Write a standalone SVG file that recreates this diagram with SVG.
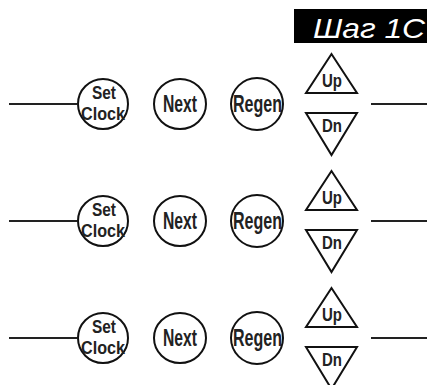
<svg xmlns="http://www.w3.org/2000/svg" width="427" height="385" viewBox="0 0 427 385">
<defs>
<style>
.c{fill:#fff;stroke:#111;stroke-width:2}
.t{fill:#fff;stroke:#111;stroke-width:2;stroke-linejoin:miter}
.ln{stroke:#222;stroke-width:2.2;fill:none}
.lb{font-family:"Liberation Sans",Arial,sans-serif;font-weight:bold;fill:#222;text-anchor:middle}
.ttl{font-family:"Liberation Sans",Arial,sans-serif;font-style:italic;fill:#fff}
</style>
</defs>
<g id="title"><rect x="294" y="9" width="133" height="34" fill="#000"/><text class="ttl" x="313" y="38" font-size="28" textLength="112" lengthAdjust="spacingAndGlyphs">Шаг 1C</text></g>
<g id="connectors">
<line class="ln" x1="9" y1="104" x2="77" y2="104"/>
<line class="ln" x1="371" y1="104" x2="427" y2="104"/>
<line class="ln" x1="9" y1="221" x2="77" y2="221"/>
<line class="ln" x1="371" y1="221" x2="427" y2="221"/>
<line class="ln" x1="9" y1="338" x2="77" y2="338"/>
<line class="ln" x1="371" y1="338" x2="427" y2="338"/>
</g>
<g id="row1" transform="translate(0,104)">
<g id="setclock1"><ellipse class="c" cx="103" cy="0" rx="25" ry="25"/><text class="lb" x="104" y="-5" font-size="18" textLength="24" lengthAdjust="spacingAndGlyphs">Set</text><text class="lb" x="103" y="15.5" font-size="18" textLength="44" lengthAdjust="spacingAndGlyphs">Clock</text></g>
<g id="next1"><ellipse class="c" cx="180" cy="0" rx="26" ry="25"/><text class="lb" x="180" y="8" font-size="23" textLength="34" lengthAdjust="spacingAndGlyphs">Next</text></g>
<g id="regen1"><ellipse class="c" cx="257" cy="0" rx="26" ry="26"/><text class="lb" x="257.5" y="8" font-size="23" textLength="49" lengthAdjust="spacingAndGlyphs">Regen</text></g>
<g id="up1"><polygon class="t" points="331.5,-50 306,-11 357,-11"/><text class="lb" x="332" y="-17" font-size="18" textLength="20" lengthAdjust="spacingAndGlyphs">Up</text></g>
<g id="dn1"><polygon class="t" points="306,9 357,9 331.5,51"/><text class="lb" x="332" y="28" font-size="19" textLength="20" lengthAdjust="spacingAndGlyphs">Dn</text></g>
</g>
<g id="row2" transform="translate(0,221)">
<g id="setclock2"><ellipse class="c" cx="103" cy="0" rx="25" ry="25"/><text class="lb" x="104" y="-5" font-size="18" textLength="24" lengthAdjust="spacingAndGlyphs">Set</text><text class="lb" x="103" y="15.5" font-size="18" textLength="44" lengthAdjust="spacingAndGlyphs">Clock</text></g>
<g id="next2"><ellipse class="c" cx="180" cy="0" rx="26" ry="25"/><text class="lb" x="180" y="8" font-size="23" textLength="34" lengthAdjust="spacingAndGlyphs">Next</text></g>
<g id="regen2"><ellipse class="c" cx="257" cy="0" rx="26" ry="26"/><text class="lb" x="257.5" y="8" font-size="23" textLength="49" lengthAdjust="spacingAndGlyphs">Regen</text></g>
<g id="up2"><polygon class="t" points="331.5,-50 306,-11 357,-11"/><text class="lb" x="332" y="-17" font-size="18" textLength="20" lengthAdjust="spacingAndGlyphs">Up</text></g>
<g id="dn2"><polygon class="t" points="306,9 357,9 331.5,51"/><text class="lb" x="332" y="28" font-size="19" textLength="20" lengthAdjust="spacingAndGlyphs">Dn</text></g>
</g>
<g id="row3" transform="translate(0,338)">
<g id="setclock3"><ellipse class="c" cx="103" cy="0" rx="25" ry="25"/><text class="lb" x="104" y="-5" font-size="18" textLength="24" lengthAdjust="spacingAndGlyphs">Set</text><text class="lb" x="103" y="15.5" font-size="18" textLength="44" lengthAdjust="spacingAndGlyphs">Clock</text></g>
<g id="next3"><ellipse class="c" cx="180" cy="0" rx="26" ry="25"/><text class="lb" x="180" y="8" font-size="23" textLength="34" lengthAdjust="spacingAndGlyphs">Next</text></g>
<g id="regen3"><ellipse class="c" cx="257" cy="0" rx="26" ry="26"/><text class="lb" x="257.5" y="8" font-size="23" textLength="49" lengthAdjust="spacingAndGlyphs">Regen</text></g>
<g id="up3"><polygon class="t" points="331.5,-50 306,-11 357,-11"/><text class="lb" x="332" y="-17" font-size="18" textLength="20" lengthAdjust="spacingAndGlyphs">Up</text></g>
<g id="dn3"><polygon class="t" points="306,9 357,9 331.5,51"/><text class="lb" x="332" y="28" font-size="19" textLength="20" lengthAdjust="spacingAndGlyphs">Dn</text></g>
</g>
</svg>
